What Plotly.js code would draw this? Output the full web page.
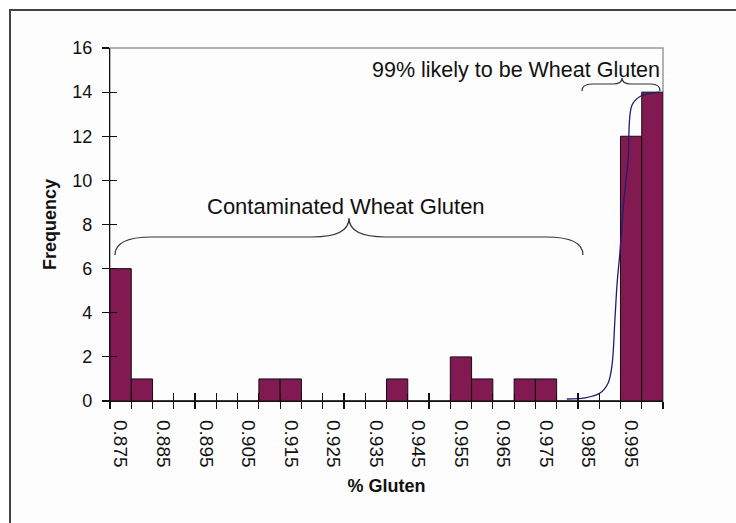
<!DOCTYPE html>
<html>
<head>
<meta charset="utf-8">
<script src="https://cdn.plot.ly/plotly-3.0.1.min.js"></script>
<style>
  html, body { margin: 0; padding: 0; background: #ffffff; width: 736px; height: 523px; overflow: hidden; }
  #frame { position: absolute; left: 9px; top: 9px; width: 800px; height: 600px;
           border-left: 2px solid #444; border-top: 2px solid #444; background: #fdfdfd; }
  #chart { position: absolute; left: 0; top: 0; width: 736px; height: 523px; }
</style>
</head>
<body>
<div id="frame"></div>
<div id="chart"></div>
<script>
// ---- data ----
const binCenters = [0.875, 0.880, 0.885, 0.890, 0.895, 0.900, 0.905, 0.910, 0.915, 0.920,
                    0.925, 0.930, 0.935, 0.940, 0.945, 0.950, 0.955, 0.960, 0.965, 0.970,
                    0.975, 0.980, 0.985, 0.990, 0.995, 1.000];
const frequency  = [6, 1, 0, 0, 0, 0, 0, 1, 1, 0,
                    0, 0, 0, 1, 0, 0, 2, 1, 0, 1,
                    1, 0, 0, 0, 12, 14];
const tickValues = [0.875, 0.885, 0.895, 0.905, 0.915, 0.925, 0.935, 0.945, 0.955, 0.965, 0.975, 0.985, 0.995];
const tickLabels = ["0.875", "0.885", "0.895", "0.905", "0.915", "0.925", "0.935", "0.945", "0.955", "0.965", "0.975", "0.985", "0.995"];
const fitX = [0.9799, 0.9842, 0.9877, 0.9896, 0.9905, 0.9912, 0.9917, 0.9924, 0.9933, 0.9943, 0.9952, 0.9971, 1.0001, 1.0018];
const fitY = [0.09, 0.14, 0.36, 0.82, 1.6, 3.7, 5.3, 6.8, 9.1, 10.9, 13.4, 13.8, 13.96, 14.0];
const binWidth = 0.005;

// ---- layout helpers ----
const W = 736, H = 523;
const M = {l: 110, r: 73, t: 48, b: 122};
const PW = W - M.l - M.r, PH = H - M.t - M.b;
const fx = p => ((p - M.l) / PW).toFixed(4);
const fy = p => ((H - M.b - p) / PH).toFixed(4);
function path(cmds) {
  return cmds.map(c => {
    const out = [c[0]];
    for (let i = 1; i < c.length; i += 2) out.push(fx(c[i]) + ',' + fy(c[i + 1]));
    return out.join(' ');
  }).join(' ');
}
const edges = binCenters.map(v => +(v - binWidth / 2).toFixed(4)).concat([+(binCenters[binCenters.length - 1] + binWidth / 2).toFixed(4)]);

const FONT = 'Liberation Sans, Arial, sans-serif';

const traces = [
  {
    type: 'bar', x: binCenters, y: frequency, width: binWidth,
    marker: {color: '#821a51', line: {color: '#111111', width: 1}},
    hoverinfo: 'x+y', showlegend: false
  },
  {
    type: 'scatter', mode: 'lines', x: fitX, y: fitY, xaxis: 'x2', yaxis: 'y2',
    line: {color: '#1f1f6e', width: 1.3, shape: 'spline'}, showlegend: false
  }
];

const layout = {
  width: W, height: H,
  margin: M,
  paper_bgcolor: 'rgba(0,0,0,0)',
  plot_bgcolor: 'rgba(0,0,0,0)',
  bargap: 0,
  font: {family: FONT, color: '#111111'},
  xaxis: {
    range: [edges[0], edges[edges.length - 1]],
    tickmode: 'array', tickvals: tickValues, ticktext: tickLabels,
    ticks: '', tickangle: 90, ticklabelstandoff: 14,
    tickfont: {family: FONT, size: 19, color: '#111111'},
    showline: true, linecolor: '#111111', linewidth: 1.2,
    showgrid: false, zeroline: false,
    minor: {tickmode: 'array', tickvals: edges, ticks: 'outside', ticklen: 7, tickcolor: '#111111', tickwidth: 1.2},
    title: {text: '<b>% Gluten</b>', font: {family: FONT, size: 18, color: '#111111'}, standoff: 12}
  },
  xaxis2: {
    overlaying: 'x', matches: 'x', anchor: 'y', side: 'bottom',
    tickmode: 'array', tickvals: edges, ticks: 'inside', ticklen: 8, tickcolor: '#111111', tickwidth: 1.2,
    showticklabels: false, showline: false, showgrid: false, zeroline: false
  },
  yaxis: {
    range: [0, 16], tickmode: 'linear', tick0: 0, dtick: 2,
    ticks: 'outside', ticklen: 7, tickcolor: '#111111', tickwidth: 1.2, ticklabelstandoff: 6,
    tickfont: {family: FONT, size: 18, color: '#111111'},
    showline: true, linecolor: '#111111', linewidth: 1.2,
    showgrid: false, zeroline: false,
    title: {text: '<b>Frequency</b>', font: {family: FONT, size: 18, color: '#111111'}, standoff: 10}
  },
  yaxis2: {
    overlaying: 'y', matches: 'y', anchor: 'x', side: 'left',
    tickmode: 'linear', tick0: 0, dtick: 2, ticks: 'inside', ticklen: 7, tickcolor: '#111111', tickwidth: 1.2,
    showticklabels: false, showline: false, showgrid: false, zeroline: false
  },
  shapes: [
    {type: 'rect', xref: 'paper', yref: 'paper', x0: 0, x1: 1, y0: 0, y1: 1,
     line: {color: '#9a9a9a', width: 1.5}, layer: 'below'},
    {type: 'path', xref: 'paper', yref: 'paper', line: {color: '#333333', width: 1.2},
     path: path([['M', 115, 255], ['Q', 115, 237, 152, 237], ['L', 312, 237], ['Q', 349, 237, 349, 218],
                 ['Q', 349, 237, 386, 237], ['L', 546, 237], ['Q', 583, 237, 583, 255]])},
    {type: 'path', xref: 'paper', yref: 'paper', line: {color: '#333333', width: 1.2},
     path: path([['M', 582, 91], ['Q', 582, 84, 592, 84], ['L', 613, 84], ['Q', 622, 84, 622, 78],
                 ['Q', 622, 84, 631, 84], ['L', 651, 84], ['Q', 660, 84, 660, 91]])}
  ],
  annotations: [
    {xref: 'paper', yref: 'paper', x: +fx(346), y: +fy(207), text: 'Contaminated Wheat Gluten',
     showarrow: false, font: {family: FONT, size: 22, color: '#111111'}, xanchor: 'center', yanchor: 'middle'},
    {xref: 'paper', yref: 'paper', x: +fx(516), y: +fy(70), text: '99% likely to be Wheat Gluten',
     showarrow: false, font: {family: FONT, size: 21.5, color: '#111111'}, xanchor: 'center', yanchor: 'middle'}
  ]
};

Plotly.newPlot('chart', traces, layout, {displayModeBar: false, staticPlot: true});
</script>
</body>
</html>
